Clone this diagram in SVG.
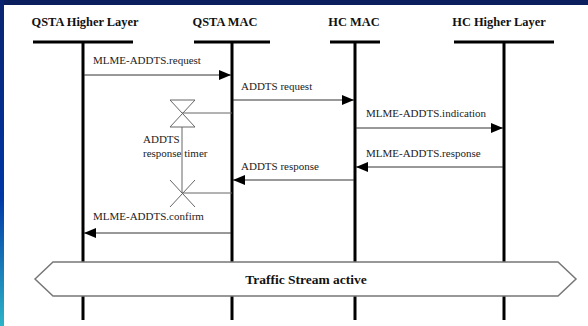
<svg xmlns="http://www.w3.org/2000/svg" width="588" height="326" viewBox="0 0 588 326">
  <defs>
    <linearGradient id="side" x1="0" y1="0" x2="0" y2="1">
      <stop offset="0" stop-color="#0a2470"/>
      <stop offset="0.6" stop-color="#0036a6"/>
      <stop offset="1" stop-color="#2cb4c8"/>
    </linearGradient>
    <marker id="arr" viewBox="0 0 12 10" refX="12" refY="5" markerWidth="12" markerHeight="10" markerUnits="userSpaceOnUse" orient="auto">
      <path d="M0,0 L12,5 L0,10 Z" fill="#000"/>
    </marker>
    <style>
      .hdr { font-family: "Liberation Serif", serif; font-weight: bold; font-size: 12.4px; fill: #111; text-anchor: middle; }
      .lbl { font-family: "Liberation Serif", serif; font-size: 11px; fill: #222; }
      .life { stroke: #000; stroke-width: 3; fill: none; }
      .msg { stroke: #333; stroke-width: 1; fill: none; marker-end: url(#arr); }
      .tmr { stroke: #666; stroke-width: 1; fill: none; }
      .band { font-family: "Liberation Serif", serif; font-weight: bold; font-size: 13.5px; fill: #111; text-anchor: middle; }
    </style>
  </defs>

  <rect x="0" y="0" width="588" height="326" fill="#fff"/>
  <rect x="0" y="0" width="588" height="5" fill="#0b1f5e"/>
  <rect x="0" y="0" width="4" height="326" fill="url(#side)"/>

  <g id="qsta-higher">
    <text class="hdr" x="85" y="26">QSTA Higher Layer</text>
    <path class="life" d="M33,42 H133 M83,42 V320"/>
  </g>
  <g id="qsta-mac">
    <text class="hdr" x="225" y="26">QSTA MAC</text>
    <path class="life" d="M194,42 H270 M232,42 V320"/>
  </g>
  <g id="hc-mac">
    <text class="hdr" x="354" y="26">HC MAC</text>
    <path class="life" d="M330,42 H380 M355,42 V320"/>
  </g>
  <g id="hc-higher">
    <text class="hdr" x="499" y="26">HC Higher Layer</text>
    <path class="life" d="M454,42 H554 M504,42 V320"/>
  </g>

  <g id="timer">
    <path class="tmr" d="M170,100 H195 L170,127 H195 Z M182,113 H232 M182,127 V193 M170,180 L195,207 M195,180 L170,207 M182,193 H232"/>
    <text class="lbl" x="143" y="143">ADDTS</text>
    <text class="lbl" x="143" y="157">response timer</text>
  </g>

  <g id="connectors">
    <line class="msg" x1="84" y1="75" x2="231" y2="75"/>
    <text class="lbl" x="93" y="64">MLME-ADDTS.request</text>
    <line class="msg" x1="233" y1="100" x2="354" y2="100"/>
    <text class="lbl" x="241" y="90">ADDTS request</text>
    <line class="msg" x1="356" y1="128" x2="503" y2="128"/>
    <text class="lbl" x="366" y="117">MLME-ADDTS.indication</text>
    <line class="msg" x1="503" y1="167" x2="356" y2="167"/>
    <text class="lbl" x="366" y="157">MLME-ADDTS.response</text>
    <line class="msg" x1="354" y1="180" x2="233" y2="180"/>
    <text class="lbl" x="241" y="170">ADDTS response</text>
    <line class="msg" x1="231" y1="233" x2="84" y2="233"/>
    <text class="lbl" x="93" y="220">MLME-ADDTS.confirm</text>
  </g>

  <g id="traffic-stream">
    <path d="M35,279 L53,262 H558 L576,279 L558,296 H53 Z" fill="#fff" stroke="#777" stroke-width="1.5"/>
    <text class="band" x="306" y="284">Traffic Stream active</text>
  </g>
</svg>
